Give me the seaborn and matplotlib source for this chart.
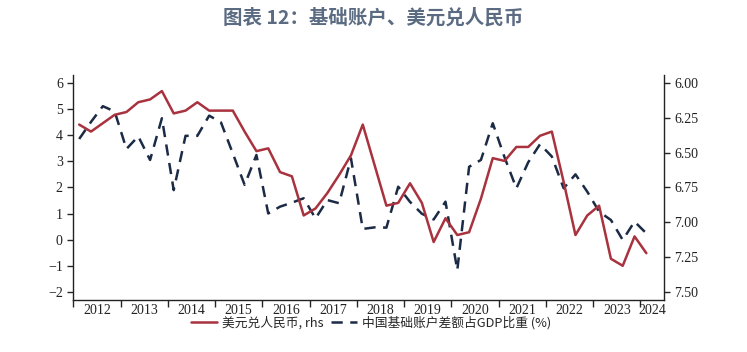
import numpy as np
import pandas as pd
import seaborn as sns
import matplotlib.pyplot as plt
from matplotlib.ticker import FixedLocator, NullFormatter, FixedFormatter

# quarterly data, 2012Q1 .. 2024Q1
usdcny = [6.30, 6.35, 6.29, 6.23, 6.21, 6.14, 6.12, 6.06, 6.22, 6.20,
          6.14, 6.20, 6.20, 6.20, 6.35, 6.49, 6.47, 6.64, 6.67, 6.95,
          6.90, 6.79, 6.66, 6.52, 6.30, 6.59, 6.88, 6.86, 6.72, 6.86,
          7.14, 6.97, 7.09, 7.07, 6.83, 6.54, 6.56, 6.46, 6.46, 6.38,
          6.35, 6.71, 7.09, 6.95, 6.88, 7.26, 7.31, 7.10, 7.22]
basic_ca = [3.85, 4.5, 5.1, 4.9, 3.47, 3.95, 3.05, 4.64, 1.9, 3.97,
            3.97, 4.74, 4.48, 3.3, 2.1, 3.24, 1.01, 1.27, 1.42, 1.59,
            0.82, 1.52, 1.40, 3.11, 0.42, 0.48, 0.47, 2.03, 1.45, 1.0,
            0.78, 1.46, -1.15, 2.79, 3.05, 4.45, 3.15, 1.97, 2.96, 3.65,
            3.18, 1.97, 2.5, 1.84, 1.08, 0.76, 0.0, 0.7, 0.25]
years = ["2012", "2013", "2014", "2015", "2016", "2017", "2018",
         "2019", "2020", "2021", "2022", "2023", "2024"]

df = pd.DataFrame({"t": np.arange(len(usdcny)), "fx": usdcny, "ca": basic_ca})

sns.set_style("ticks")
plt.rcParams["font.family"] = ["Liberation Serif", "DejaVu Serif"]
serif = ["Liberation Serif", "DejaVu Serif"]
cjk = ["Noto Sans CJK SC", "DejaVu Sans"]

red = "#A8323E"
navy = "#1C2B45"

fig = plt.figure(figsize=(7.47, 3.52), dpi=100)
ax = fig.add_axes([0.0981, 0.1477, 0.7909, 0.6393])
ax2 = ax.twinx()

sns.lineplot(data=df, x="t", y="ca", ax=ax, color=navy, lw=1.8,
             linestyle=(0, (4.5, 3)), legend=False)
sns.lineplot(data=df, x="t", y="fx", ax=ax2, color=red, lw=1.8, legend=False)

ax.set_xlim(-0.5, 49.5)
ax.set_ylim(-2.29, 6.29)
ax.set_yticks(range(-2, 7))
rhs_ticks = [6.00, 6.25, 6.50, 6.75, 7.00, 7.25, 7.50]
ax2.set_ylim(7.555, 5.945)
ax2.set_yticks(rhs_ticks)
ax2.set_yticklabels([f"{v:.2f}" for v in rhs_ticks])

# year boundaries as major ticks, labels centred on minor ticks
bounds = [-0.5 + 4 * i for i in range(13)]
centres = [1.5 + 4 * i for i in range(12)] + [48.5]
ax.xaxis.set_major_locator(FixedLocator(bounds))
ax.xaxis.set_major_formatter(NullFormatter())
ax.xaxis.set_minor_locator(FixedLocator(centres))
ax.xaxis.set_minor_formatter(FixedFormatter(years))
ax.tick_params(axis="x", which="major", length=5, width=1, direction="out")
ax.tick_params(axis="x", which="minor", length=0, labelsize=10, pad=3)
ax.tick_params(axis="y", length=4, width=1, labelsize=10)
ax2.tick_params(axis="y", length=4, width=1, labelsize=10)
ax.set_xlabel("")
ax.set_ylabel("")
ax2.set_ylabel("")

fig.canvas.draw()
for lab in (ax.get_xticklabels(minor=True) + ax.get_yticklabels()
            + ax2.get_yticklabels()):
    lab.set_family(serif)
    lab.set_color("#222222")

for a in (ax, ax2):
    a.spines["top"].set_visible(False)
    for s in ("left", "right", "bottom"):
        a.spines[s].set_linewidth(1.0)
        a.spines[s].set_color("#222222")
ax.spines["right"].set_visible(False)
ax2.spines["left"].set_visible(False)
ax2.spines["bottom"].set_visible(False)

handles = [ax2.get_lines()[0], ax.get_lines()[0]]
labels = ["美元兑人民币, rhs", "中国基础账户差额占GDP比重 (%)"]
fig.legend(handles, labels, loc="center", bbox_to_anchor=(0.497, 0.083), ncol=2,
           frameon=False, handlelength=2.0, handletextpad=0.4, columnspacing=0.6,
           prop={"family": cjk, "size": 9.2})

fig.text(0.5, 0.948, "图表 12：基础账户、美元兑人民币", ha="center", va="center",
         fontsize=14, fontweight="bold", color="#5A6B82", family=cjk)

fig.savefig("out.png", dpi=100)
